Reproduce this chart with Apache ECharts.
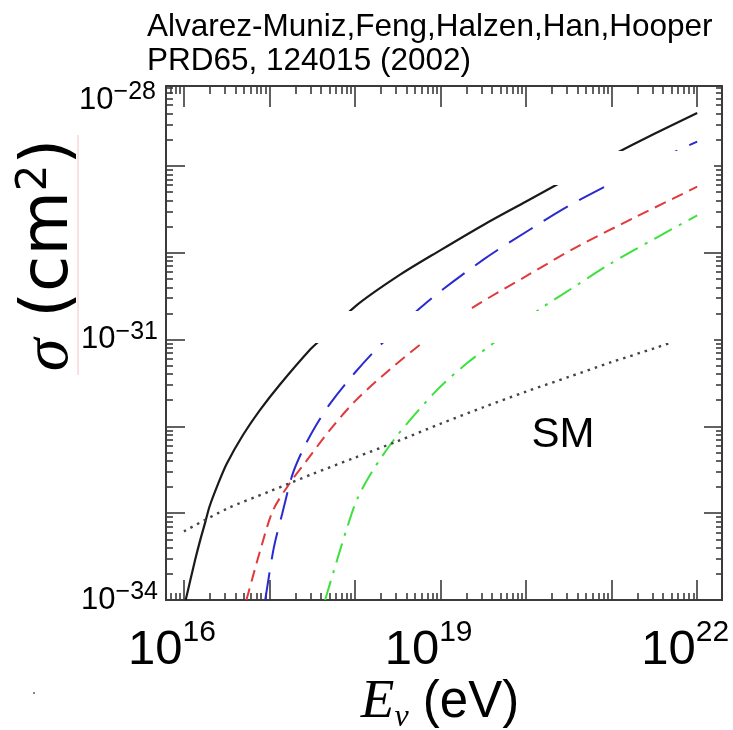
<!DOCTYPE html>
<html>
<head>
<meta charset="utf-8">
<script src="https://cdn.jsdelivr.net/npm/echarts@6/dist/echarts.min.js"></script>
<style>
html,body{margin:0;padding:0;background:#fff;}
#chart{width:733px;height:730px;}
</style>
</head>
<body>
<div id="chart"></div>
<script>
// ---------- Data ----------
// x: log10(E_nu / eV), y: log10(sigma / cm^2)
const solidLogE   = [16.02, 16.07, 16.13, 16.19, 16.25, 16.30, 16.40, 16.50, 16.69, 16.89, 17.12, 17.47, 17.60, 18.00, 18.50, 19.00, 19.50, 20.00, 20.50, 21.00, 21.50, 22.00];
const solidLogSig = [-34.00, -33.79, -33.54, -33.31, -33.10, -32.92, -32.66, -32.43, -32.10, -31.81, -31.52, -31.12, -31.00, -30.62, -30.27, -29.97, -29.68, -29.41, -29.14, -28.88, -28.63, -28.39];

const longDashLogE   = [16.95, 17.05, 17.15, 17.27, 17.40, 17.55, 17.70, 18.00, 18.30, 18.84, 19.50, 20.05, 20.50, 21.00, 21.50, 22.00];
const longDashLogSig = [-34.00, -33.40, -33.00, -32.55, -32.25, -31.98, -31.75, -31.38, -31.06, -30.57, -30.08, -29.73, -29.46, -29.20, -28.95, -28.72];

const shortDashLogE   = [16.73, 16.80, 16.90, 17.04, 17.24, 17.43, 17.70, 18.00, 18.40, 18.88, 19.38, 20.00, 20.60, 21.30, 22.00];
const shortDashLogSig = [-34.00, -33.75, -33.40, -32.97, -32.65, -32.40, -32.05, -31.71, -31.35, -30.97, -30.63, -30.27, -29.93, -29.58, -29.24];

const dashDotLogE   = [17.65, 17.79, 17.90, 18.02, 18.20, 18.49, 18.96, 19.30, 19.62, 20.16, 20.60, 20.98, 21.50, 22.00];
const dashDotLogSig = [-34.00, -33.54, -33.19, -32.85, -32.52, -32.11, -31.58, -31.28, -31.04, -30.65, -30.37, -30.13, -29.84, -29.57];

const smLogE   = [16.00, 16.50, 17.00, 17.50, 18.00, 18.50, 19.00, 19.50, 20.00, 20.50, 21.00, 21.50, 22.00];
const smLogSig = [-33.21, -32.95, -32.75, -32.55, -32.36, -32.17, -31.97, -31.78, -31.60, -31.43, -31.26, -31.10, -30.93];

// ---------- Axes / texts ----------
const X_MIN_EXP = 15.79, X_MAX_EXP = 22.29;   // x axis: logarithmic energy axis
const Y_MIN_EXP = -34, Y_MAX_EXP = -28.08;    // y axis: decades of sigma
const xMajorExp = [16, 17, 18, 19, 20, 21, 22];
const xLabelExp = [16, 19, 22];
const yMajorExp = [-34, -33, -32, -31, -30, -29];
const yLabelExp = [-34, -31];
const yTopLabel = '−28';
const titleLines = ['Alvarez-Muniz,Feng,Halzen,Han,Hooper', 'PRD65, 124015 (2002)'];
const smLabel = 'SM';

const p10 = e => Math.pow(10, e);
// x given as energy in eV (log axis), y as decade exponent of sigma
const pairs = (xs, ys) => xs.map((x, i) => [p10(x), ys[i]]);
function minorExps(minExp, maxExp) {
  const out = [];
  for (let n = Math.floor(minExp); n <= Math.ceil(maxExp); n++) {
    for (let k = 2; k <= 9; k++) {
      const l = n + Math.log10(k);
      if (l > minExp && l < maxExp) out.push(l);
    }
  }
  return out;
}

const AX = '#3a3a3a';
const xMin = p10(X_MIN_EXP), xMax = p10(X_MAX_EXP);

const xLabelRich = {
  b: {fontSize: 49, fontFamily: 'Liberation Sans', color: '#000', lineHeight: 64},
  s: {fontSize: 30, fontFamily: 'Liberation Sans', color: '#000', lineHeight: 22, verticalAlign: 'top'}
};
const yLabelRich = {
  b: {fontSize: 31, fontFamily: 'Liberation Sans', color: '#000', lineHeight: 40},
  s: {fontSize: 25, fontFamily: 'Liberation Sans', color: '#000', lineHeight: 18, verticalAlign: 'top'}
};

function makeX(pos, ticks, len, withLabels) {
  return {
    type: 'log', logBase: 10, position: pos, min: xMin, max: xMax,
    axisLine: {show: true, onZero: false, lineStyle: {color: AX, width: 2}},
    axisTick: {show: true, inside: true, length: len, customValues: ticks, lineStyle: {color: AX, width: 1.6}},
    axisLabel: withLabels ? {
      show: true, margin: 18, padding: [0, 24, 0, 0],
      customValues: xLabelExp.map(p10),
      formatter: v => '{b|10}{s|' + Math.round(Math.log10(v)) + '}',
      rich: xLabelRich
    } : {show: false},
    splitLine: {show: false}, minorTick: {show: false}, minorSplitLine: {show: false}
  };
}
function makeY(pos, ticks, len, withLabels) {
  return {
    type: 'value', position: pos, min: Y_MIN_EXP, max: Y_MAX_EXP,
    axisLine: {show: true, onZero: false, lineStyle: {color: AX, width: 2}},
    axisTick: {show: true, inside: true, length: len, customValues: ticks, lineStyle: {color: AX, width: 1.6}},
    axisLabel: withLabels ? {
      show: true, margin: 8,
      customValues: yLabelExp,
      formatter: v => '{b|10}{s|−' + Math.abs(Math.round(v)) + '}',
      rich: yLabelRich
    } : {show: false},
    splitLine: {show: false}, minorTick: {show: false}, minorSplitLine: {show: false}
  };
}

const xMajor = xMajorExp.map(p10), xMinor = minorExps(X_MIN_EXP, X_MAX_EXP).map(p10);
const yMajor = yMajorExp, yMinor = minorExps(Y_MIN_EXP, Y_MAX_EXP);

const lineSeries = (name, xs, ys, color, width, type) => ({
  type: 'line', name: name, data: pairs(xs, ys),
  xAxisIndex: 0, yAxisIndex: 0,
  showSymbol: false, symbol: 'none', smooth: 0.3, z: 3,
  lineStyle: {color: color, width: width, type: type}
});

const chart = echarts.init(document.getElementById('chart'), null, {renderer: 'canvas'});
chart.setOption({
  animation: false,
  backgroundColor: '#fff',
  grid: {left: 166, right: 11, top: 86, bottom: 130, containLabel: false},
  xAxis: [
    makeX('bottom', xMajor, 20, true),
    makeX('bottom', xMinor, 7, false),
    makeX('top', xMajor, 21, false),
    makeX('top', xMinor, 8, false)
  ],
  yAxis: [
    makeY('left', yMajor, 19, true),
    makeY('left', yMinor, 7, false),
    makeY('right', yMajor, 18, false),
    makeY('right', yMinor, 6, false)
  ],
  series: [
    lineSeries('solid', solidLogE, solidLogSig, '#1a1a1a', 2.2, 'solid'),
    lineSeries('long dash', longDashLogE, longDashLogSig, '#2a2ad0', 2, [28, 13]),
    lineSeries('short dash', shortDashLogE, shortDashLogSig, '#e03a3a', 2, [12, 7]),
    lineSeries('dash-dot', dashDotLogE, dashDotLogSig, '#3ee03e', 2, [20, 8, 3, 8]),
    lineSeries('SM', smLogE, smLogSig, '#444444', 2.4, [2.5, 5])
  ],
  graphic: [
    // white patches present in the reference
    {type: 'rect', z: 50, shape: {x: 300, y: 311, width: 414, height: 32}, style: {fill: '#fff'}},
    {type: 'rect', z: 50, shape: {x: 450, y: 151, width: 264, height: 34}, style: {fill: '#fff'}},
    // faint pink line next to the y title
    {type: 'line', z: 50, shape: {x1: 78, y1: 135, x2: 78, y2: 375}, style: {stroke: '#f6c4c4', lineWidth: 1}},
    {type: 'rect', z: 50, shape: {x: 33, y: 692, width: 2, height: 2}, style: {fill: '#888'}},
    // title
    {type: 'text', z: 60, x: 147, y: 27, style: {text: titleLines[0], x: 0, y: 0, align: 'left', verticalAlign: 'middle', fontSize: 31.5, fontFamily: 'Liberation Sans', fill: '#000'}},
    {type: 'text', z: 60, x: 147, y: 61, style: {text: titleLines[1], x: 0, y: 0, align: 'left', verticalAlign: 'middle', fontSize: 31.5, fontFamily: 'Liberation Sans', fill: '#000'}},
    // top y label (10^-28)
    {type: 'text', z: 60, x: 156, y: 100, style: {text: '{b|10}{s|' + yTopLabel + '}', x: 0, y: 0, align: 'right', verticalAlign: 'middle', rich: yLabelRich}},
    // SM label
    {type: 'text', z: 60, x: 563, y: 435, style: {text: smLabel, x: 0, y: 0, align: 'center', verticalAlign: 'middle', fontSize: 42, fontFamily: 'Liberation Sans', fill: '#000'}},
    // x axis title
    {type: 'text', z: 60, x: 440, y: 703, style: {
      text: '{e|E}{n|ν}{r| (eV)}', x: 0, y: 0, align: 'center', verticalAlign: 'middle',
      rich: {
        e: {fontSize: 55, fontFamily: 'Liberation Serif', fontStyle: 'italic', color: '#000', lineHeight: 62},
        n: {fontSize: 32, fontFamily: 'Liberation Serif', fontStyle: 'italic', color: '#000', lineHeight: 22, verticalAlign: 'bottom'},
        r: {fontSize: 51, fontFamily: 'Liberation Sans', color: '#000', lineHeight: 62}
      }}},
    // y axis title
    {type: 'text', z: 60, x: 50, y: 255, rotation: Math.PI / 2, style: {
      text: '{i|σ}{r| (cm}{s|2}{r|)}', x: 0, y: 0, align: 'center', verticalAlign: 'middle',
      rich: {
        i: {fontSize: 66, fontFamily: 'Liberation Serif', fontStyle: 'italic', color: '#000', lineHeight: 72},
        r: {fontSize: 66, fontFamily: 'DejaVu Sans', color: '#000', lineHeight: 72},
        s: {fontSize: 42, fontFamily: 'DejaVu Sans', color: '#000', lineHeight: 42, verticalAlign: 'top'}
      }}}
  ]
});
</script>
</body>
</html>
